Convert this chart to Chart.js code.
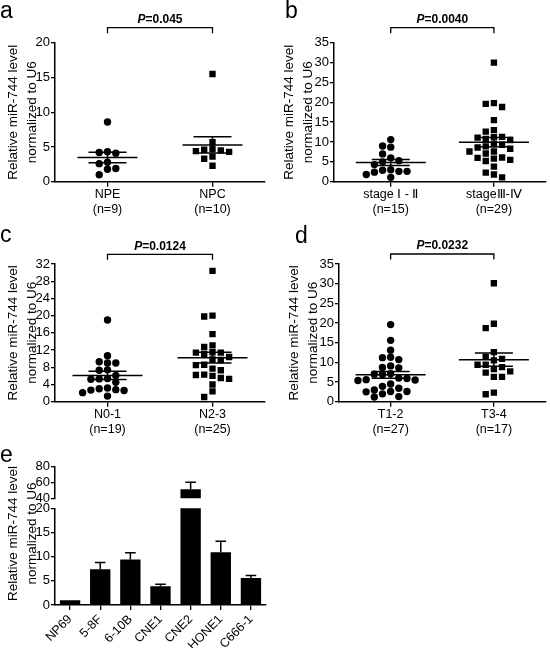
<!DOCTYPE html>
<html>
<head>
<meta charset="utf-8">
<script src="https://cdn.jsdelivr.net/npm/chart.js@4.4.1/dist/chart.umd.min.js"></script>
<style>
html,body{margin:0;padding:0;background:#fff;}
body{width:550px;height:648px;position:relative;overflow:hidden;}
.box{position:absolute;}
</style>
</head>
<body>
<div class="box" id="boxE" style="left:0;top:440px;width:275px;height:208px"><canvas id="chartE"></canvas></div>
<div class="box" id="boxE2" style="left:0;top:450px;width:275px;height:60px"><canvas id="chartE2"></canvas></div>
<div class="box" id="boxC" style="left:0;top:215px;width:275px;height:225px"><canvas id="chartC"></canvas></div>
<div class="box" id="boxD" style="left:281px;top:215px;width:269px;height:225px"><canvas id="chartD"></canvas></div>
<div class="box" id="boxA" style="left:0;top:0;width:275px;height:220px"><canvas id="chartA"></canvas></div>
<div class="box" id="boxB" style="left:276px;top:0;width:274px;height:220px"><canvas id="chartB"></canvas></div>
<script>
// values
const npe=[8.6,4.3,4.2,4.1,2.8,2.6,1.9,1.8,1.0]
const npc=[15.5,5.7,4.7,4.4,4.3,4.5,4.6,3.6,3.3,2.3]
const stage12=[10.6,9.0,8.7,7.0,6.0,5.3,5.0,4.3,3.0,2.9,2.6,2.6,2.4,1.8,1.1]
const stage34=[30.0,19.8,19.6,18.8,15.5,13.0,12.6,11.3,11.2,11.1,10.8,10.5,9.4,9.3,8.9,8.6,8.3,7.6,7.6,7.1,6.1,6.0,5.8,5.5,5.2,3.8,2.3,1.8,1.1]
const n01=[19.0,10.7,9.3,9.0,9.0,7.4,7.3,6.1,5.4,5.3,5.2,4.5,3.2,3.0,2.8,2.7,2.6,2.1,1.3]
const n23=[30.4,20.0,19.8,15.7,13.1,12.7,11.5,11.4,11.4,11.1,10.4,9.8,9.7,8.6,8.5,7.7,7.3,6.3,6.2,6.0,5.5,5.3,4.0,2.4,1.1]
const t12=[19.6,15.6,13.1,11.3,11.2,10.7,9.1,8.7,8.6,7.1,7.0,6.9,6.0,5.9,5.6,5.5,5.4,4.5,3.9,3.4,3.0,2.6,2.6,2.5,2.0,1.3,1.2]
const t34=[30.1,19.8,18.7,12.6,11.4,10.9,10.5,9.4,9.4,8.8,8.3,7.7,7.4,6.3,6.3,2.3,1.9]

const ticksA=[0,5,10,15,20]
const ticksB=[0,5,10,15,20,25,30,35]
const ticksC=[0,4,8,12,16,20,24,28,32]
const ticksD=[0,5,10,15,20,25,30,35]

const pA="0.045"
const pB="0.0040"
const pC="0.0124"
const pD="0.0232"

const cellLines=["NP69","5-8F","6-10B","CNE1","CNE2","HONE1","C666-1"]
const cellMean=[1.0,7.4,9.4,3.9,51.4,10.9,5.6]
const cellErr=[0,1.4,1.4,0.4,8.8,2.3,0.5]
const ticksELow=[0,5,10,15,20]
const ticksEHigh=[40,60,80]

const yTitle=["Relative miR-744 level","normalized to U6"]

const FONT="'Liberation Sans', Arial, sans-serif"
Chart.defaults.font.family=FONT
Chart.defaults.color="#000"

// simple beeswarm: slot index per point so markers do not overlap
function swarm(vals,pxPerUnit){
const placed=[]
const slots=new Array(vals.length)
const order=vals.map((v,i)=>i).sort((a,b)=>vals[b]-vals[a])
const tries=[0,-1,1,-2,2,-3,3,-4,4,-5,5]
order.forEach(i=>{
for(const s of tries){
if(!placed.some(p=>p.s===s&&Math.abs(p.v-vals[i])*pxPerUnit<6.8)){
placed.push({s:s,v:vals[i]})
slots[i]=s
break
}
}
})
return slots
}

function stats(arr){
const n=arr.length
const m=arr.reduce((a,b)=>a+b,0)/n
const sd=Math.sqrt(arr.reduce((a,b)=>a+(b-m)*(b-m),0)/(n-1))
return {m:m,sem:sd/Math.sqrt(n)}
}

function axisStyle(){
return {
grid:{drawOnChartArea:false,drawTicks:true,tickLength:4,color:"#000",lineWidth:1.3},
border:{display:true,color:"#000",width:1.5}
}
}

function dotPlot(cfg){
const top=cfg.ticks[cfg.ticks.length-1]
const plotH=cfg.h-cfg.padTop-cfg.xH
const ppu=plotH/(top-cfg.ticks[0])
const slotW=8.3/105

const decor={
id:"decor"+cfg.id,
afterDatasetsDraw(chart){
const ctx=chart.ctx
const xs=chart.scales.x, ys=chart.scales.y
ctx.save()
ctx.strokeStyle="#000"
ctx.lineWidth=1.5
cfg.groups.forEach((g,gi)=>{
const s=stats(g.vals)
const cx=xs.getPixelForValue(gi+1)
const ym=ys.getPixelForValue(s.m)
const yh=ys.getPixelForValue(s.m+s.sem)
const yl=ys.getPixelForValue(s.m-s.sem)
ctx.beginPath()
ctx.moveTo(cx-cfg.meanHalf,ym);ctx.lineTo(cx+cfg.meanHalf,ym)
ctx.moveTo(cx-19,yh);ctx.lineTo(cx+19,yh)
ctx.moveTo(cx-19,yl);ctx.lineTo(cx+19,yl)
ctx.moveTo(cx,yh);ctx.lineTo(cx,yl)
ctx.stroke()
})
ctx.restore()
},
afterDraw(chart){
const ctx=chart.ctx
const xs=chart.scales.x
const x1=xs.getPixelForValue(1), x2=xs.getPixelForValue(2)
ctx.save()
ctx.fillStyle="#000"
ctx.strokeStyle="#000"
ctx.lineWidth=1.3
ctx.font="23px "+FONT
ctx.textBaseline="alphabetic"
ctx.textAlign="left"
ctx.fillText(cfg.letter,cfg.lx,cfg.ly)
ctx.beginPath()
ctx.moveTo(x1,cfg.bracketY+5.5);ctx.lineTo(x1,cfg.bracketY);ctx.lineTo(x2,cfg.bracketY);ctx.lineTo(x2,cfg.bracketY+5.5)
ctx.stroke()
ctx.textBaseline="middle"
ctx.font="italic bold 12px "+FONT
const wP=ctx.measureText("P").width
ctx.font="bold 12px "+FONT
const rest="="+cfg.p
const wR=ctx.measureText(rest).width
const x0=(x1+x2)/2-(wP+wR)/2
ctx.font="italic bold 12px "+FONT
ctx.fillText("P",x0,cfg.pY)
ctx.font="bold 12px "+FONT
ctx.fillText(rest,x0+wP,cfg.pY)
ctx.restore()
}
}

const datasets=cfg.groups.map((g,gi)=>{
const slots=swarm(g.vals,ppu)
return {
data:g.vals.map((v,i)=>({x:gi+1+slots[i]*slotW,y:v})),
pointStyle:gi?"rect":"circle",
pointRadius:gi?4.5:3.7,
backgroundColor:"#000",
borderColor:"#000",
borderWidth:0,
showLine:false
}
})

const ya=axisStyle(), xa=axisStyle()
xa.grid.tickLength=5

return new Chart(document.getElementById(cfg.id),{
type:"scatter",
data:{datasets:datasets},
options:{
responsive:true,
maintainAspectRatio:false,
devicePixelRatio:1,
animation:false,
events:[],
layout:{padding:{left:0,top:cfg.padTop,right:cfg.padRight,bottom:0}},
plugins:{legend:{display:false},tooltip:{enabled:false}},
scales:{
x:{
type:"linear",min:cfg.xmin,max:2.5,
afterBuildTicks:s=>{s.ticks=[{value:1},{value:2}]},
afterFit:s=>{s.height=cfg.xH},
ticks:{callback:v=>cfg.groups[v-1]?[cfg.groups[v-1].label,"(n="+cfg.groups[v-1].vals.length+")"]:"",
font:{size:12.5,lineHeight:1.2},padding:0,maxRotation:0,autoSkip:false},
grid:xa.grid,border:xa.border
},
y:{
type:"linear",min:cfg.ticks[0],max:top,
afterBuildTicks:s=>{s.ticks=cfg.ticks.map(v=>({value:v}))},
afterFit:s=>{s.width=cfg.yW},
ticks:{font:{size:13},padding:1,autoSkip:false},
grid:ya.grid,border:ya.border,
title:{display:true,text:yTitle,font:{size:13.5,lineHeight:1.42},padding:{top:4,bottom:0}}
}
}
},
plugins:[decor]
})
}

dotPlot({id:"chartA",h:220,padTop:42.7,xH:38.3,yW:55,padRight:10,xmin:0.5,ticks:ticksA,
groups:[{label:"NPE",vals:npe},{label:"NPC",vals:npc}],
letter:"a",lx:0,ly:18,bracketY:27.7,pY:19.3,p:pA,meanHalf:30})

dotPlot({id:"chartB",h:220,padTop:42.7,xH:38.3,yW:58,padRight:0.75,xmin:0.45,ticks:ticksB,
groups:[{label:"stage \u2160 - \u2161",vals:stage12},{label:"stage\u2162-\u2163",vals:stage34}],
letter:"b",lx:9,ly:18,bracketY:27.7,pY:19.3,p:pB,meanHalf:35})

dotPlot({id:"chartC",h:225,padTop:49,xH:38.3,yW:55,padRight:10,xmin:0.5,ticks:ticksC,
groups:[{label:"N0-1",vals:n01},{label:"N2-3",vals:n23}],
letter:"c",lx:0,ly:26.7,bracketY:39.3,pY:32,p:pC,meanHalf:35})

dotPlot({id:"chartD",h:225,padTop:49,xH:38.3,yW:58,padRight:1,xmin:0.5,ticks:ticksD,
groups:[{label:"T1-2",vals:t12},{label:"T3-4",vals:t34}],
letter:"d",lx:14,ly:28.3,bracketY:39,pY:31,p:pD,meanHalf:35})

// panel e: broken axis drawn as two charts sharing the same x layout
const errBars={
id:"errBars",
afterDatasetsDraw(chart){
const ctx=chart.ctx, a=chart.chartArea
const ys=chart.scales.y
const meta=chart.getDatasetMeta(0)
ctx.save()
ctx.beginPath()
ctx.rect(a.left,a.top-1,a.right-a.left,a.bottom-a.top+1)
ctx.clip()
ctx.strokeStyle="#000"
ctx.lineWidth=1.5
meta.data.forEach((bar,i)=>{
if(!cellErr[i])return
const y1=ys.getPixelForValue(cellMean[i])
const y2=ys.getPixelForValue(cellMean[i]+cellErr[i])
ctx.beginPath()
ctx.moveTo(bar.x,y1);ctx.lineTo(bar.x,y2)
ctx.moveTo(bar.x-5.3,y2);ctx.lineTo(bar.x+5.3,y2)
ctx.stroke()
})
ctx.restore()
}
}

const eTitle={
id:"eTitle",
afterDraw(chart){
const ctx=chart.ctx
ctx.save()
ctx.fillStyle="#000"
ctx.font="23px "+FONT
ctx.textBaseline="alphabetic"
ctx.fillText("e",0,21.7)
ctx.font="13.5px "+FONT
ctx.textAlign="center"
ctx.textBaseline="middle"
ctx.translate(13.3,533.5-440)
ctx.rotate(-Math.PI/2)
ctx.fillText(yTitle[0],0,0)
ctx.fillText(yTitle[1],0,19.2)
ctx.restore()
}
}

function barOpts(ticks,showX,pad,xH){
const ya=axisStyle(), xa=axisStyle()
xa.grid.tickLength=5
xa.grid.offset=false
return {
responsive:true,
maintainAspectRatio:false,
devicePixelRatio:1,
animation:false,
events:[],
layout:{padding:pad},
plugins:{legend:{display:false},tooltip:{enabled:false}},
scales:{
x:{
display:showX,
afterFit:s=>{s.height=xH},
ticks:{font:{size:12.5},padding:2,minRotation:45,maxRotation:45,autoSkip:false},
grid:xa.grid,border:xa.border
},
y:{
min:ticks[0],max:ticks[ticks.length-1],
afterBuildTicks:s=>{s.ticks=ticks.map(v=>({value:v}))},
afterFit:s=>{s.width=55},
ticks:{font:{size:13},padding:1,autoSkip:false},
grid:ya.grid,border:ya.border
}
}
}
}

new Chart(document.getElementById("chartE"),{
type:"bar",
data:{labels:cellLines,datasets:[{data:cellMean,backgroundColor:"#000",barPercentage:0.675,categoryPercentage:1,clip:0}]},
options:barOpts(ticksELow,true,{left:0,top:68.3,right:9,bottom:0},43),
plugins:[errBars,eTitle]
})

new Chart(document.getElementById("chartE2"),{
type:"bar",
data:{labels:cellLines,datasets:[{data:cellMean,backgroundColor:"#000",barPercentage:0.675,categoryPercentage:1,clip:0}]},
options:barOpts(ticksEHigh,false,{left:0,top:16.7,right:9,bottom:11.7},0),
plugins:[errBars]
})
</script>
</body>
</html>
